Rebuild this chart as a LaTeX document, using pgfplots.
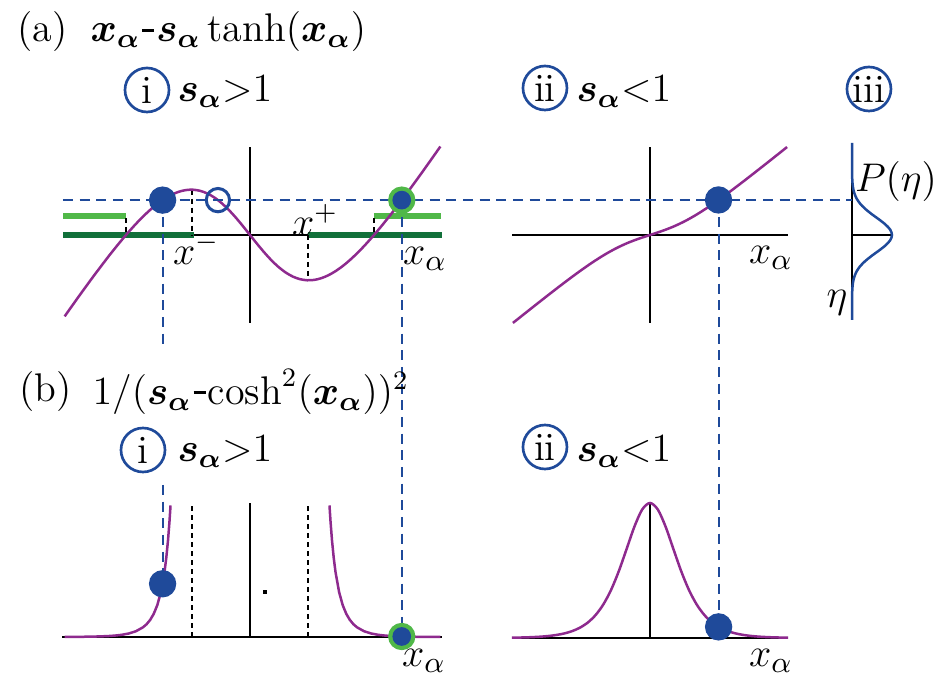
\documentclass[border=0pt]{standalone}
\usepackage{bm}
\usepackage{fontspec}
\usepackage{pgfplots}
\pgfplotsset{compat=1.18}

\definecolor{dotblue}{RGB}{31,74,154}
\definecolor{curvepurple}{RGB}{142,42,142}
\definecolor{ltgreen}{RGB}{80,184,72}
\definecolor{dkgreen}{RGB}{17,112,58}

% one px of the 938x676 layout = 0.3pt
\pgfplotsset{
  panel/.style={scale only axis, hide axis, clip=false, anchor=south west},
  canvas/.style={panel, at={(0pt,0pt)}, width=281.4pt, height=202.8pt,
    xmin=0, xmax=938, ymin=0, ymax=676, y dir=reverse},
  aone/.style={panel, at={(18.9pt,105.9pt)}, width=113.7pt, height=52.8pt,
    xmin=-2.623, xmax=2.693, ymin=-0.833, ymax=0.833},
  atwo/.style={panel, at={(153.6pt,105.9pt)}, width=82.8pt, height=52.8pt,
    xmin=-3.02, xmax=3.02, ymin=-2.404, ymax=2.404},
  athree/.style={panel, at={(255.6pt,106.8pt)}, width=12pt, height=53.1pt,
    xmin=0, xmax=1, ymin=-0.805, ymax=0.871},
  bone/.style={panel, at={(18.6pt,11.7pt)}, width=114pt, height=40.2pt,
    xmin=-2.637, xmax=2.693, ymin=0, ymax=1.015},
  btwo/.style={panel, at={(153.6pt,11.4pt)}, width=82.8pt, height=40.5pt,
    xmin=-1.769, xmax=1.769, ymin=0, ymax=6.25},
  curve/.style={curvepurple, line width=0.75pt, no markers},
}
\tikzset{
  axln/.style={black, line width=0.65pt},
  blkdash/.style={black, line width=0.6pt, dash pattern=on 1.6pt off 1.1pt},
  bluedash/.style={dotblue, line width=0.6pt, dash pattern=on 3pt off 2pt},
  lbl/.style={font=\fontsize{12}{14}\selectfont, inner sep=0pt},
  biglbl/.style={font=\fontsize{13}{15}\selectfont, inner sep=0pt},
  circ/.style={lbl, draw=dotblue, line width=0.8pt, circle, minimum size=13.2pt},
}
% short minus as in the source figure
\newcommand{\mn}{\mathord{\mbox{\kern0.05em\rule[0.25em]{0.3em}{0.07em}\kern0.05em}}}

\begin{document}
\begin{tikzpicture}
\useasboundingbox (0,0) rectangle (281.4pt,202.8pt);

% ---- (a) i : x - s tanh x, s = 1.85
\begin{axis}[aone]
\draw[axln] (axis cs:-2.623,0) -- (axis cs:2.693,0);
\draw[axln] (axis cs:0,-0.833) -- (axis cs:0,0.833);
\draw[dkgreen, line width=1.8pt] (axis cs:-2.623,0) -- (axis cs:-0.79,0);
\draw[dkgreen, line width=1.8pt] (axis cs:0.81,0) -- (axis cs:2.693,0);
\draw[ltgreen, line width=1.8pt] (axis cs:-2.623,0.18) -- (axis cs:-1.739,0.18);
\draw[ltgreen, line width=1.8pt] (axis cs:1.739,0.18) -- (axis cs:2.68,0.18);
\draw[blkdash] (axis cs:-1.739,0.16) -- (axis cs:-1.739,0);
\draw[blkdash] (axis cs:1.739,0.16) -- (axis cs:1.739,0);
\draw[blkdash] (axis cs:-0.8136,0.4291) -- (axis cs:-0.8136,0);
\draw[blkdash] (axis cs:0.8136,0) -- (axis cs:0.8136,-0.4291);
\addplot[curve, smooth] coordinates {
  (-2.6,-0.7703)(-2.4,-0.5802)(-2.2,-0.3949)(-2.0,-0.2165)(-1.9,-0.1310)
  (-1.8,-0.0484)(-1.7,0.0305)(-1.6,0.1051)(-1.5,0.1745)(-1.4,0.2379)
  (-1.3,0.2942)(-1.2,0.3423)(-1.1,0.3809)(-1.0,0.4089)(-0.9,0.4252)
  (-0.8,0.4285)(-0.7,0.4181)(-0.6,0.3935)(-0.5,0.3549)(-0.4,0.3029)
  (-0.3,0.2389)(-0.2,0.1652)(-0.1,0.0844)(0,0)
  (0.1,-0.0844)(0.2,-0.1652)(0.3,-0.2389)(0.4,-0.3029)(0.5,-0.3549)
  (0.6,-0.3935)(0.7,-0.4181)(0.8,-0.4285)(0.9,-0.4252)(1.0,-0.4089)
  (1.1,-0.3809)(1.2,-0.3423)(1.3,-0.2942)(1.4,-0.2379)(1.5,-0.1745)
  (1.6,-0.1051)(1.7,-0.0305)(1.8,0.0484)(1.9,0.1310)(2.0,0.2165)
  (2.2,0.3949)(2.4,0.5802)(2.6,0.7703)(2.67,0.8376)};
\end{axis}

% ---- (a) ii : x - s tanh x, s = 0.6
\begin{axis}[atwo]
\draw[axln] (axis cs:-3.02,0) -- (axis cs:3.02,0);
\draw[axln] (axis cs:0,-2.404) -- (axis cs:0,2.404);
\addplot[curve, smooth] coordinates {
  (-3.0,-2.4030)(-2.75,-2.1549)(-2.5,-1.9080)(-2.25,-1.6632)(-2.0,-1.4216)
  (-1.75,-1.1852)(-1.5,-0.9569)(-1.25,-0.7410)(-1.0,-0.5431)(-0.75,-0.3689)
  (-0.5,-0.2227)(-0.25,-0.1031)(0,0)
  (0.25,0.1031)(0.5,0.2227)(0.75,0.3689)(1.0,0.5431)(1.25,0.7410)
  (1.5,0.9569)(1.75,1.1852)(2.0,1.4216)(2.25,1.6632)(2.5,1.9080)
  (2.75,2.1549)(3.0,2.4030)};
\end{axis}

% ---- (a) iii : P(eta)
\begin{axis}[athree]
\draw[axln] (axis cs:0,-0.805) -- (axis cs:0,0.871);
\draw[axln] (axis cs:0,0) -- (axis cs:1,0);
\addplot[dotblue, line width=0.75pt, smooth, no markers] coordinates {
  (0,-0.805)(0,-0.65)(0.0015,-0.6)(0.0041,-0.55)(0.0107,-0.5)(0.0254,-0.45)
  (0.0548,-0.4)(0.1083,-0.35)(0.1953,-0.3)(0.3217,-0.25)(0.4839,-0.2)
  (0.6648,-0.15)(0.8340,-0.1)(0.9557,-0.05)(1,0)
  (0.9557,0.05)(0.8340,0.1)(0.6648,0.15)(0.4839,0.2)(0.3217,0.25)
  (0.1953,0.3)(0.1083,0.35)(0.0548,0.4)(0.0254,0.45)(0.0107,0.5)
  (0.0041,0.55)(0.0015,0.6)(0,0.65)(0,0.871)};
\end{axis}

% ---- (b) i : 1/(s - cosh^2 x)^2, s = 1.85
\begin{axis}[bone]
\draw[axln] (axis cs:-2.637,0) -- (axis cs:2.693,0);
\draw[axln] (axis cs:0,0) -- (axis cs:0,1.015);
\draw[blkdash] (axis cs:-0.8136,0) -- (axis cs:-0.8136,1.015);
\draw[blkdash] (axis cs:0.8136,0) -- (axis cs:0.8136,1.015);
\addplot[curve] coordinates {
  (-2.6,0.0005)(-2.4,0.0012)(-2.2,0.0028)(-2.0,0.0066)(-1.9,0.0104)
  (-1.8,0.0164)(-1.7,0.0265)(-1.6,0.0435)(-1.5,0.0737)(-1.45,0.0970)
  (-1.4,0.1297)(-1.35,0.1756)(-1.3,0.2416)(-1.25,0.3396)(-1.2,0.4900)
  (-1.175,0.5962)(-1.15,0.7323)(-1.13,0.8704)(-1.12,0.9519)(-1.115,0.9963)};
\addplot[curve] coordinates {
  (1.115,0.9963)(1.12,0.9519)(1.13,0.8704)(1.15,0.7323)(1.175,0.5962)
  (1.2,0.4900)(1.25,0.3396)(1.3,0.2416)(1.35,0.1756)(1.4,0.1297)
  (1.45,0.0970)(1.5,0.0737)(1.6,0.0435)(1.7,0.0265)(1.8,0.0164)
  (1.9,0.0104)(2.0,0.0066)(2.2,0.0028)(2.4,0.0012)(2.67,0.0004)};
\addplot[only marks, mark=square*, mark size=0.35pt, black] coordinates {(0.21,0.34)};
\end{axis}

% ---- (b) ii : 1/(s - cosh^2 x)^2, s = 0.6
\begin{axis}[btwo]
\draw[axln] (axis cs:-1.769,0) -- (axis cs:1.769,0);
\draw[axln] (axis cs:0,0) -- (axis cs:0,6.25);
\addplot[curve, smooth] coordinates {
  (-1.77,0.0138)(-1.7,0.0183)(-1.6,0.0274)(-1.5,0.0411)(-1.4,0.0617)
  (-1.3,0.0927)(-1.2,0.1394)(-1.1,0.2097)(-1.0,0.3152)(-0.9,0.4732)
  (-0.8,0.7077)(-0.7,1.0510)(-0.6,1.5419)(-0.5,2.2175)(-0.4,3.0918)
  (-0.3,4.1189)(-0.2,5.1527)(-0.1,5.9479)(0,6.25)
  (0.1,5.9479)(0.2,5.1527)(0.3,4.1189)(0.4,3.0918)(0.5,2.2175)
  (0.6,1.5419)(0.7,1.0510)(0.8,0.7077)(0.9,0.4732)(1.0,0.3152)
  (1.1,0.2097)(1.2,0.1394)(1.3,0.0927)(1.4,0.0617)(1.5,0.0411)
  (1.6,0.0274)(1.7,0.0183)(1.77,0.0138)};
\end{axis}

% ---- guide lines and text, in px of the layout
\begin{axis}[canvas]
\draw[bluedash] (axis cs:63,200.2) -- (axis cs:852,200.2);
\draw[bluedash] (axis cs:162.6,200.2) -- (axis cs:162.6,350);
\draw[bluedash] (axis cs:162.6,485) -- (axis cs:162.6,584);
\draw[bluedash] (axis cs:401.7,200.2) -- (axis cs:401.7,636);
\draw[bluedash] (axis cs:718.6,200.2) -- (axis cs:718.6,627);

\node[lbl, anchor=west] at (axis cs:17,32) {(a)};
\node[lbl, anchor=west] at (axis cs:90,32)
  {$\bm{x}_{\bm{\alpha}}{\mn}\bm{s}_{\bm{\alpha}}\tanh(\bm{x}_{\bm{\alpha}})$};
\node[circ] at (axis cs:147,90) {i};
\node[lbl, anchor=west] at (axis cs:177,92) {$\bm{s}_{\bm{\alpha}}{>}1$};
\node[circ] at (axis cs:545,88) {ii};
\node[lbl, anchor=west] at (axis cs:576,92) {$\bm{s}_{\bm{\alpha}}{<}1$};
\node[circ] at (axis cs:869,89) {iii};

\node[lbl, anchor=west] at (axis cs:19,392) {(b)};
\node[lbl, anchor=west] at (axis cs:92,392)
  {$1/(\bm{s}_{\bm{\alpha}}{\mn}\mathrm{cosh}^2(\bm{x}_{\bm{\alpha}}))^2$};
\node[circ] at (axis cs:143,450) {i};
\node[lbl, anchor=west] at (axis cs:177,452) {$\bm{s}_{\bm{\alpha}}{>}1$};
\node[circ] at (axis cs:545,447) {ii};
\node[lbl, anchor=west] at (axis cs:576,452) {$\bm{s}_{\bm{\alpha}}{<}1$};

\node[lbl] at (axis cs:196,249) {$x^{-}$};
\node[lbl] at (axis cs:315,220) {$x^{+}$};
\node[biglbl] at (axis cs:425,259) {$x_\alpha$};
\node[biglbl] at (axis cs:771,258) {$x_\alpha$};
\node[biglbl] at (axis cs:424,661) {$x_\alpha$};
\node[biglbl] at (axis cs:771,661) {$x_\alpha$};
\node[lbl] at (axis cs:896,182) {$P(\eta)$};
\node[biglbl] at (axis cs:837,303) {$\eta$};
\end{axis}

% ---- markers on top
\begin{axis}[aone]
\addplot[only marks, mark=*, mark size=3.9pt, dotblue] coordinates {(-1.226,0.33)};
\addplot[only marks, mark=o, mark size=3.5pt, mark options={line width=0.9pt}, dotblue] coordinates {(-0.45,0.33)};
\addplot[only marks, mark=*, mark size=3.9pt, ltgreen] coordinates {(2.1285,0.33)};
\addplot[only marks, mark=*, mark size=2.6pt, dotblue] coordinates {(2.1285,0.33)};
\end{axis}
\begin{axis}[atwo]
\addplot[only marks, mark=*, mark size=3.9pt, dotblue] coordinates {(1.5,0.957)};
\end{axis}
\begin{axis}[bone]
\addplot[only marks, mark=*, mark size=3.9pt, dotblue] coordinates {(-1.226,0.403)};
\addplot[only marks, mark=*, mark size=3.9pt, ltgreen] coordinates {(2.1285,0.0038)};
\addplot[only marks, mark=*, mark size=2.6pt, dotblue] coordinates {(2.1285,0.0038)};
\end{axis}
\begin{axis}[btwo]
\addplot[only marks, mark=*, mark size=3.9pt, dotblue] coordinates {(0.8795,0.514)};
\end{axis}
\end{tikzpicture}
\end{document}
